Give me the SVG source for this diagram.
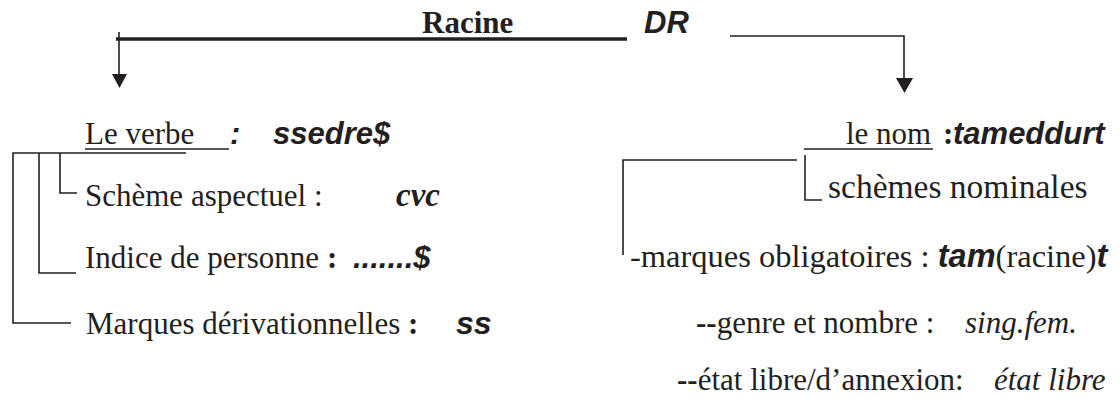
<svg xmlns="http://www.w3.org/2000/svg" width="1120" height="399" viewBox="0 0 1120 399">
  <style>
    text { font-family: "Liberation Serif", "Times New Roman", serif; font-size: 31px; fill: #231f20; }
    .b { font-weight: bold; }
    .bi { font-family: "Liberation Sans", Arial, sans-serif; font-weight: bold; font-style: italic; }
    .sbi { font-weight: bold; font-style: italic; }
    .i { font-style: italic; }
    .ln { fill: none; stroke: #231f20; stroke-width: 1.6; }
    .thick { fill: none; stroke: #231f20; stroke-width: 3.6; }
    .head { fill: #231f20; }
  </style>

  <!-- connectors: root bar, arrows and tree brackets -->
  <g id="connectors">
    <path class="thick" d="M116 39 H627"/>
    <path class="ln" d="M119 32 V76"/>
    <polygon class="head" points="112,74 127,74 119.5,88"/>
    <path class="ln" d="M730 36 H904 V80"/>
    <polygon class="head" points="896,78 913,78 904.5,93"/>
    <!-- verb branches -->
    <path class="ln" d="M186 153 H13 V323 H71"/>
    <path class="ln" d="M39 153 V273 H76"/>
    <path class="ln" d="M60 153 V193 H77"/>
    <!-- noun branches -->
    <path class="ln" d="M797 160 H623 V255"/>
    <path class="ln" d="M805 155 V200 H822"/>
  </g>

  <g id="racine">
    <text class="b" x="422" y="33">Racine</text>
    <text class="bi" x="644" y="33">DR</text>
  </g>

  <g id="verbe">
    <text x="85" y="144">Le verbe</text>
    <path class="ln" d="M85 149 H229"/>
    <text class="bi" x="230" y="144">:</text>
    <text class="bi" x="273" y="144">ssedre$</text>
  </g>

  <g id="scheme-aspectuel">
    <text x="85" y="206">Schème aspectuel :</text>
    <text class="sbi" x="396" y="206" style="font-size:33px">cvc</text>
  </g>

  <g id="indice-personne">
    <text x="85" y="268">Indice de personne <tspan class="b">:</tspan></text>
    <text class="bi" x="353" y="268">.......$</text>
  </g>

  <g id="marques-derivationnelles">
    <text x="86" y="334">Marques dérivationnelles <tspan class="b">:</tspan></text>
    <text class="bi" x="456" y="334" style="font-size:32px">ss</text>
  </g>

  <g id="nom">
    <path class="ln" d="M804 149 H933"/>
    <text x="846" y="144">le nom</text>
    <text class="b" x="943" y="144">:</text>
    <text class="bi" x="953" y="144">tameddurt</text>
  </g>

  <g id="schemes-nominales">
    <text x="828" y="198" style="font-size:33.5px">schèmes nominales</text>
  </g>

  <g id="marques-obligatoires">
    <text x="630" y="267" style="font-size:32.5px">-marques obligatoires : <tspan class="bi">tam</tspan>(racine)<tspan class="bi">t</tspan></text>
  </g>

  <g id="genre-nombre">
    <text x="696" y="333"><tspan class="b">--</tspan>genre et nombre : <tspan class="i" x="965">sing.fem.</tspan></text>
  </g>

  <g id="etat">
    <text x="677" y="390"><tspan class="b">--</tspan>état libre/d’annexion: <tspan class="i" x="994">état libre</tspan></text>
  </g>
</svg>
